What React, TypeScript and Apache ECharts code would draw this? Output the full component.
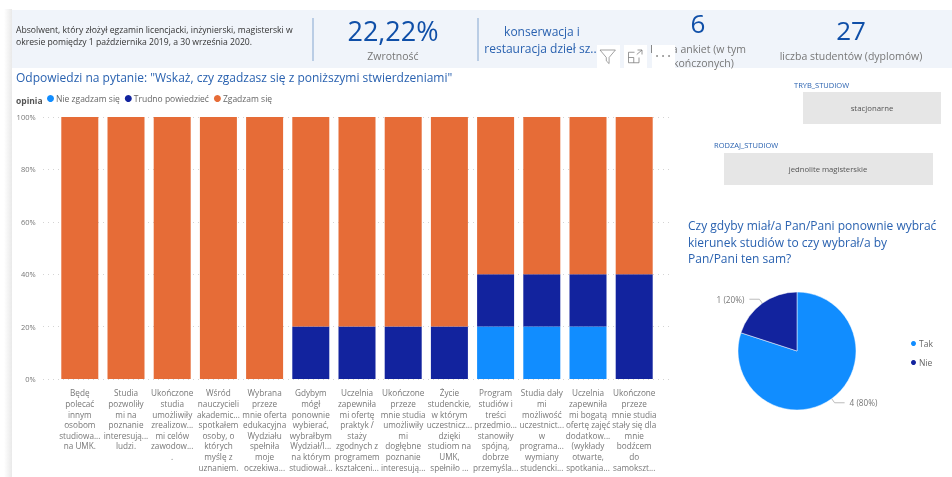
import React, { useEffect, useRef } from "react";
import * as echarts from "echarts";

const FONT = '"Open Sans", "Noto Sans", sans-serif';
const categories = [
  "Będę\npolecać\ninnym\nosobom\nstudiowa...\nna UMK.",
  "Studia\npozwoliły\nmi na\npoznanie\ninteresują...\nludzi.",
  "Ukończone\nstudia\numożliwiły\nzrealizow...\nmi celów\nzawodow...\n.",
  "Wśród\nnauczycieli\nakademic...\nspotkałem\nosoby, o\nktórych\nmyślę z\nuznaniem.",
  "Wybrana\nprzeze\nmnie oferta\nedukacyjna\nWydziału\nspełniła\nmoje\noczekiwa...",
  "Gdybym\nmógł\nponownie\nwybierać,\nwybrałbym\nWydział/I...\nna którym\nstudiował...",
  "Uczelnia\nzapewniła\nmi ofertę\npraktyk /\nstaży\nzgodnych z\nprogramem\nkształceni...",
  "Ukończone\nprzeze\nmnie studia\numożliwiły\nmi\ndogłębne\npoznanie\ninteresują...",
  "Życie\nstudenckie,\nw którym\nuczestnicz...\ndzięki\nstudiom na\nUMK,\nspełniło ...",
  "Program\nstudiów i\ntreści\nprzedmio...\nstanowiły\nspójną,\ndobrze\nprzemyśla...",
  "Studia dały\nmi\nmożliwość\nuczestnict...\nw\nprograma...\nwymiany\nstudencki...",
  "Uczelnia\nzapewniła\nmi bogatą\nofertę zajęć\ndodatkow...\n(wykłady\notwarte,\nspotkania...",
  "Ukończone\nprzeze\nmnie studia\nstały się dla\nmnie\nbodźcem\ndo\nsamokszt...",
];
const nieZgadzam = [0, 0, 0, 0, 0, 0, 0, 0, 0, 20, 20, 20, 0];
const trudno = [0, 0, 0, 0, 0, 20, 20, 20, 20, 20, 20, 20, 40];
const zgadzam = [100, 100, 100, 100, 100, 80, 80, 80, 80, 60, 60, 60, 60];
const pieData = [
  { name: "Tak", value: 4 },
  { name: "Nie", value: 1 },
];
const LIGHT = "#118dff";
const DARK = "#12239e";
const ORANGE = "#e66c37";
const GREY = "#777777";
const TITLE = "#2a62b0";
const BIG = "#0f4fa8";

echarts.graphic.registerShape(
  "funnelIcon",
  echarts.graphic.extendPath("M0 0 L22 0 L13 11 L13 20 L9 16 L9 11 Z", {})
);
echarts.graphic.registerShape(
  "focusIcon",
  echarts.graphic.extendPath("M8 3 L0 3 L0 17 L14 17 L14 10 M0 10 L7 10 L7 17 M11 6 L18 0 M12 0 L18 0 L18 6", {})
);

const t = (x: number, y: number, text: string, size: number, fill: string, align = "center", extra: any = {}) => ({
  type: "text",
  x,
  y,
  silent: true,
  style: { text, fontSize: size, fill, align, verticalAlign: "middle", fontFamily: FONT, ...extra },
});
const iconBox = (x: number) => ({
  type: "rect",
  shape: { x, y: 45, width: 23, height: 23 },
  style: { fill: "#fff" },
  silent: true,
  z: 5,
});
const dot = (cx: number) => ({
  type: "circle",
  shape: { cx, cy: 56, r: 0.8 },
  style: { fill: "#777" },
  silent: true,
  z: 6,
});

export default function App() {
  const ref = useRef<HTMLDivElement>(null);
  useEffect(() => {
    const chart = echarts.init(ref.current!, null, { renderer: "svg" });
    const bar = (name: string, data: number[], color: string) => ({
      name,
      type: "bar",
      stack: "a",
      data,
      barWidth: 37,
      itemStyle: { color },
      xAxisIndex: 0,
      yAxisIndex: 0,
    });
    chart.setOption({
      animation: false,
      textStyle: { fontFamily: FONT },
      graphic: [
        {
          type: "rect",
          z: -10,
          shape: { x: 4, y: 9, width: 8, height: 468 },
          style: {
            fill: new echarts.graphic.LinearGradient(0, 0, 1, 0, [
              { offset: 0, color: "#ffffff" },
              { offset: 1, color: "#e9e9e9" },
            ]),
          },
          silent: true,
        },
        { type: "rect", z: -9, shape: { x: 12, y: 10, width: 940, height: 58 }, style: { fill: "#f0f4fa" }, silent: true },
        { type: "line", shape: { x1: 313, y1: 18, x2: 313, y2: 61 }, style: { stroke: "#a9c1de", lineWidth: 1.5 }, silent: true },
        { type: "line", shape: { x1: 478, y1: 18, x2: 478, y2: 61 }, style: { stroke: "#a9c1de", lineWidth: 1.5 }, silent: true },
        t(16, 30, "Absolwent, który złożył egzamin licencjacki, inżynierski, magisterski w", 8.65, "#333333", "left"),
        t(16, 42, "okresie pomiędzy 1 października 2019, a 30 września 2020.", 8.65, "#333333", "left"),
        t(393, 30, "22,22%", 27, BIG),
        t(393, 56, "Zwrotność", 10.5, GREY),
        t(542, 31, "konserwacja i", 12, TITLE),
        t(542, 48, "restauracja dzieł sz...", 12, TITLE),
        t(698, 23, "6", 26, BIG),
        t(698, 49, "liczba ankiet (w tym", 10.5, GREY),
        t(698, 63, "zakończonych)", 10.5, GREY),
        t(851, 30, "27", 26, BIG),
        t(851, 56, "liczba studentów (dyplomów)", 10.5, GREY),
        iconBox(597),
        iconBox(624),
        iconBox(652),
        { type: "funnelIcon", x: 600, y: 50, z: 6, silent: true, scaleX: 0.7, scaleY: 0.68, style: { fill: "none", stroke: "#777", lineWidth: 1 } },
        { type: "focusIcon", x: 628.5, y: 50, z: 6, silent: true, scaleX: 0.75, scaleY: 0.75, style: { fill: "none", stroke: "#777", lineWidth: 1 } },
        dot(657),
        dot(663),
        dot(669),
        t(16, 77, 'Odpowiedzi na pytanie: "Wskaż, czy zgadzasz się z poniższymi stwierdzeniami"', 12, TITLE, "left"),
        t(16, 100, "opinia", 8.5, "#555", "left", { fontWeight: "bold" }),
        t(794, 85, "TRYB_STUDIOW", 7.5, TITLE, "left"),
        { type: "rect", shape: { x: 803, y: 92, width: 138, height: 32 }, style: { fill: "#e6e6e6" }, silent: true },
        t(872, 108, "stacjonarne", 7.8, "#555"),
        t(714, 145, "RODZAJ_STUDIOW", 7.5, TITLE, "left"),
        { type: "rect", shape: { x: 724, y: 153, width: 209, height: 32 }, style: { fill: "#e6e6e6" }, silent: true },
        t(828, 169, "jednolite magisterskie", 7.7, "#555"),
        t(688, 225, "Czy gdyby miał/a Pan/Pani ponownie wybrać", 12, TITLE, "left"),
        t(688, 242, "kierunek studiów to czy wybrał/a by", 12, TITLE, "left"),
        t(688, 258, "Pan/Pani ten sam?", 12, TITLE, "left"),
      ],
      legend: [
        {
          data: ["Nie zgadzam się", "Trudno powiedzieć", "Zgadzam się"],
          left: 47,
          top: 94,
          icon: "circle",
          itemWidth: 7,
          itemHeight: 7,
          itemGap: 5,
          padding: 0,
          textStyle: { fontSize: 8.5, color: "#666", fontFamily: FONT, padding: [0, 0, 0, -3] },
        },
        {
          data: ["Tak", "Nie"],
          left: 909,
          top: 339,
          orient: "vertical",
          icon: "circle",
          itemWidth: 7,
          itemHeight: 7,
          itemGap: 10,
          padding: 0,
          textStyle: { fontSize: 8.5, color: "#666", fontFamily: FONT, padding: [0, 0, 0, -3] },
        },
      ],
      grid: [
        { left: 56.7, top: 117, width: 600.6, height: 262, outerBoundsMode: "none" },
        { left: 43, top: 117, width: 627, height: 262, outerBoundsMode: "none" },
      ],
      xAxis: [
        {
          type: "category",
          gridIndex: 0,
          data: categories,
          axisLine: { show: false },
          axisTick: { show: false },
          axisLabel: { interval: 0, fontSize: 8.2, color: GREY, lineHeight: 10.6, margin: 8.5, fontFamily: FONT },
        },
        { type: "value", gridIndex: 1, show: false, min: 0, max: 1 },
      ],
      yAxis: [
        {
          type: "value",
          gridIndex: 0,
          min: 0,
          max: 100,
          interval: 20,
          axisLine: { show: false },
          axisTick: { show: false },
          splitLine: { show: false },
          axisLabel: { formatter: "{value}%", fontSize: 7.5, color: GREY, margin: 21, fontFamily: FONT },
        },
        {
          type: "value",
          gridIndex: 1,
          min: 0,
          max: 100,
          interval: 20,
          axisLine: { show: false },
          axisTick: { show: false },
          axisLabel: { show: false },
          splitLine: { show: true, lineStyle: { color: "#d4d4d4", type: [1, 4], width: 1 } },
        },
      ],
      series: [
        bar("Nie zgadzam się", nieZgadzam, LIGHT),
        bar("Trudno powiedzieć", trudno, DARK),
        bar("Zgadzam się", zgadzam, ORANGE),
        {
          type: "pie",
          center: [797, 351],
          radius: 59,
          startAngle: 90,
          data: pieData,
          itemStyle: { borderColor: "#fff", borderWidth: 0.5 },
          color: [LIGHT, DARK],
          label: { formatter: "{c} ({d}%)", fontSize: 8.2, color: GREY, fontFamily: FONT },
          labelLine: { length: 5, length2: 10, lineStyle: { color: "#bbb", width: 1 } },
        },
      ],
    });
    return () => chart.dispose();
  }, []);
  return <div ref={ref} style={{ position: "fixed", left: 0, top: 0, width: 952, height: 477, background: "#fff", filter: "blur(0.35px)" }} />;
}
